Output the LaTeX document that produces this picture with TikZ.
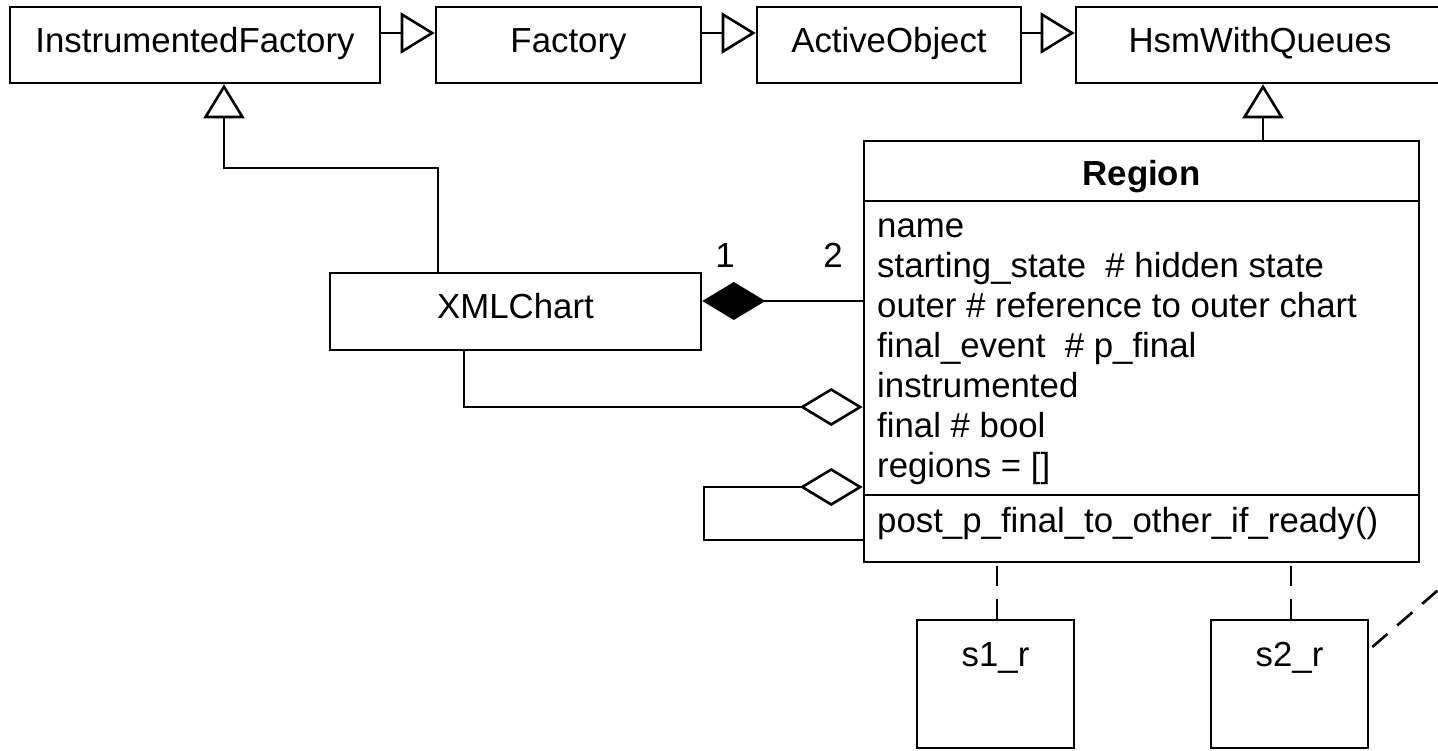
\documentclass[tikz,border=0pt]{standalone}
\usepackage{fontspec}
\setmainfont{Liberation Sans}
\usetikzlibrary{arrows.meta}
\tikzset{
  x=1pt, y=-1pt,
  every node/.style={font=\fontsize{34.8}{40}\selectfont, inner sep=0pt},
  box/.style={draw, line width=2.6pt, rectangle, text height=25pt, text depth=11pt, align=center},
  conn/.style={line width=2.6pt},
  gen/.style={conn, -{Triangle[open, length=34pt, width=41pt, line width=2.6pt]}},
  comp/.style={conn, {Diamond[length=63pt, width=38pt]}-},
  aggr/.style={conn, {Diamond[open, length=63pt, width=38pt, line width=2.6pt]}-},
  dep/.style={conn, dash pattern=on 20pt off 13pt},
  txt/.style={anchor=base west},
}
\begin{document}
\begin{tikzpicture}
\useasboundingbox (0,0) rectangle (1438,750);
\clip (0,0) rectangle (1438,750);
\fill[white] (0,0) rectangle (1438,750);

% top row
\node[box, minimum width=370, minimum height=76] (IF) at (195,45) {InstrumentedFactory};
\node[box, minimum width=265, minimum height=76] (F) at (568.5,45) {Factory};
\node[box, minimum width=264, minimum height=76] (AO) at (889,45) {ActiveObject};
\node[box, minimum width=368, minimum height=76] (H) at (1260,45) {HsmWithQueues};

% XMLChart
\node[box, minimum width=371, minimum height=77] (XC) at (515.5,311.5) {XMLChart};

% Region
\node[draw, line width=2.6pt, minimum width=555, minimum height=421] (R) at (1141.5,351.5) {};
\coordinate (h1) at (0,201);
\coordinate (h2) at (0,495);
\draw[conn] (R.west |- h1) -- (R.east |- h1);
\draw[conn] (R.west |- h2) -- (R.east |- h2);
\node[anchor=base, font=\fontsize{34.8}{40}\selectfont\bfseries] (Rt) at (1141.5,185) {Region};
\node[txt] (a1) at (877,237) {name};
\node[txt] (a2) at (877,277) {starting\_state\ \ \# hidden state};
\node[txt] (a3) at (877,317) {outer \# reference to outer chart};
\node[txt] (a4) at (877,357) {final\_event\ \ \# p\_final};
\node[txt] (a5) at (877,397) {instrumented};
\node[txt] (a6) at (877,437) {final \# bool};
\node[txt] (a7) at (877,477) {regions = []};
\node[txt] (m1) at (877,532) {post\_p\_final\_to\_other\_if\_ready()};

% s1_r, s2_r
\node[draw, line width=2.6pt, minimum width=157, minimum height=128] (s1) at (995.5,684) {};
\node[draw, line width=2.6pt, minimum width=157, minimum height=128] (s2) at (1289.5,684) {};
\node[anchor=base] (s1t) at (995.5,666) {s1\_r};
\node[anchor=base] (s2t) at (1289.5,666) {s2\_r};

% generalizations
\coordinate (g) at (0,33);
\draw[gen] (IF.east |- g) -- (F.west |- g);
\draw[gen] (F.east |- g) -- (AO.west |- g);
\draw[gen] (AO.east |- g) -- (H.west |- g);
\coordinate (rx) at (1263,0);
\draw[gen] (R.north -| rx) -- (H.south -| rx);
\coordinate (xc1) at (438,0);
\coordinate (b1) at (224,168);
\draw[gen] (XC.north -| xc1) |- (b1) -- (IF.south -| b1);

% composition
\coordinate (c1) at (0,301);
\draw[comp] (XC.east |- c1) -- (R.west |- c1);
\node[anchor=base] (m1l) at (725,267) {1};
\node[anchor=base] (m2l) at (833,267) {2};

% aggregations
\coordinate (c2) at (0,407);
\coordinate (xc2) at (464,0);
\draw[aggr] (R.west |- c2) -| (XC.south -| xc2);
\coordinate (c3) at (0,487);
\coordinate (c4) at (704,540);
\draw[aggr] (R.west |- c3) -| (c4) -- (R.west |- c4);

% dependencies
\coordinate (d1) at (997,0);
\coordinate (d2) at (1291,0);
\draw[dep] (s1.north -| d1) -- (R.south -| d1);
\draw[dep] (s2.north -| d2) -- (R.south -| d2);
\coordinate (off) at (1504,533);
\draw[dep] ([xshift=3pt,yshift=37pt]s2.east) -- (off);
\end{tikzpicture}
\end{document}
